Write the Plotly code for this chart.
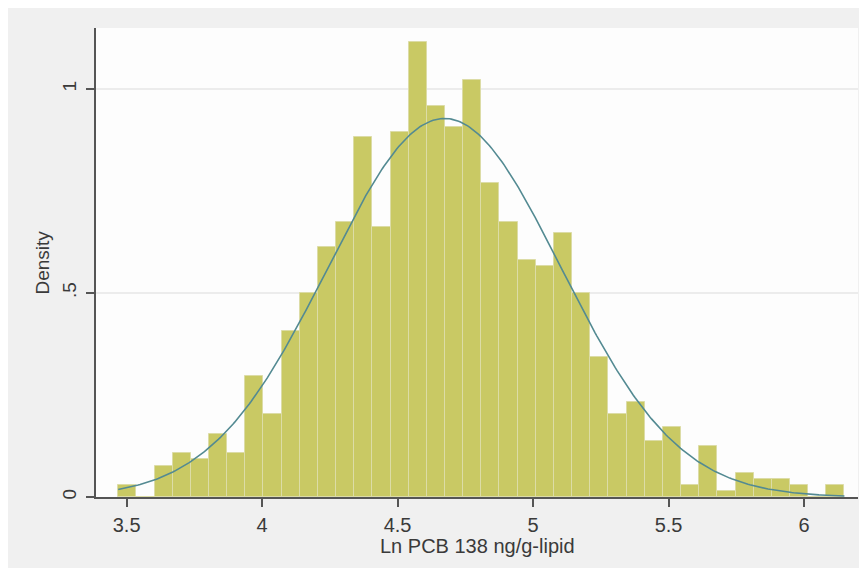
import numpy as np
import plotly.graph_objects as go

# ---- data ----
bin_start = 3.469          # left edge of first bin
bin_width = 0.067          # histogram bin width
density = [0.029, 0.0, 0.077, 0.107, 0.092, 0.154, 0.107, 0.297, 0.203, 0.407,
           0.501, 0.613, 0.675, 0.882, 0.661, 0.895, 1.116, 0.959, 0.908, 1.022,
           0.769, 0.675, 0.581, 0.566, 0.646, 0.501, 0.344, 0.203, 0.233, 0.138,
           0.172, 0.029, 0.125, 0.014, 0.060, 0.044, 0.044, 0.029, 0.0, 0.029]
normal_mean = 4.673
normal_sd = 0.43
x_tickvals = [3.5, 4, 4.5, 5, 5.5, 6]
x_ticktext = ["3.5", "4", "4.5", "5", "5.5", "6"]
y_tickvals = [0, 0.5, 1]
y_ticktext = ["0", ".5", "1"]
x_title = "Ln PCB 138 ng/g-lipid"
y_title = "Density"

n_bins = len(density)
centers = bin_start + bin_width * (np.arange(n_bins) + 0.5)
bin_end = bin_start + bin_width * n_bins

xc = np.linspace(bin_start, bin_end, 400)
yc = np.exp(-0.5 * ((xc - normal_mean) / normal_sd) ** 2) / (normal_sd * np.sqrt(2 * np.pi))

FONT = "Liberation Sans, Arial, sans-serif"
TXT = "#3a3a3a"
AX = "#555555"

fig = go.Figure()
fig.add_trace(go.Bar(
    x=centers, y=density, width=bin_width,
    marker=dict(color="#c9c964", line=dict(color="#dcdca6", width=1)),
    hoverinfo="skip", showlegend=False,
))
fig.add_trace(go.Scatter(
    x=xc, y=yc, mode="lines",
    line=dict(color="#538a92", width=1.6),
    hoverinfo="skip", showlegend=False,
))

W, H = 863, 568
L, R, T, B = 96, 5, 28, 71
pw, ph = W - L - R, H - T - B

def px_x(p):
    return (p - L) / pw

def px_y(p):
    return (H - B - p) / ph

fig.update_layout(
    width=W, height=H,
    margin=dict(l=L, r=R, t=T, b=B, pad=0),
    paper_bgcolor="white",
    plot_bgcolor="rgba(0,0,0,0)",
    bargap=0,
    font=dict(family=FONT, color=TXT, size=19),
    shapes=[
        dict(type="rect", xref="paper", yref="paper", layer="below",
             x0=px_x(8), x1=px_x(859), y0=px_y(568), y1=px_y(8),
             fillcolor="#f0f0f0", line=dict(width=0)),
        dict(type="rect", xref="paper", yref="paper", layer="below",
             x0=0, x1=1, y0=0, y1=1,
             fillcolor="#fdfdfd", line=dict(width=0)),
    ],
    annotations=[
        dict(text=x_title, xref="paper", yref="paper", x=0.5, y=px_y(546),
             showarrow=False, xanchor="center", yanchor="middle",
             font=dict(size=20, family=FONT, color=TXT)),
        dict(text=y_title, xref="paper", yref="paper", x=px_x(42), y=0.5,
             showarrow=False, xanchor="center", yanchor="middle", textangle=-90,
             font=dict(size=19, family=FONT, color=TXT)),
    ],
    xaxis=dict(
        range=[3.387, 6.199], tickvals=x_tickvals, ticktext=x_ticktext,
        ticks="outside", ticklen=8, tickwidth=1.5, tickcolor=AX,
        showline=True, linecolor=AX, linewidth=1.5, showgrid=False,
        zeroline=False, ticklabelstandoff=1,
        tickfont=dict(size=20, family=FONT, color=TXT),
    ),
    yaxis=dict(
        range=[0, 1.1495], tickvals=y_tickvals, ticktext=y_ticktext,
        ticks="outside", ticklen=8, tickwidth=1.5, tickcolor=AX,
        showline=True, linecolor=AX, linewidth=1.5,
        showgrid=True, gridcolor="#ececec", gridwidth=1.5,
        zeroline=False, tickangle=-90, ticklabelstandoff=3,
        tickfont=dict(size=19, family=FONT, color=TXT),
    ),
)

fig.write_html("out.html")
